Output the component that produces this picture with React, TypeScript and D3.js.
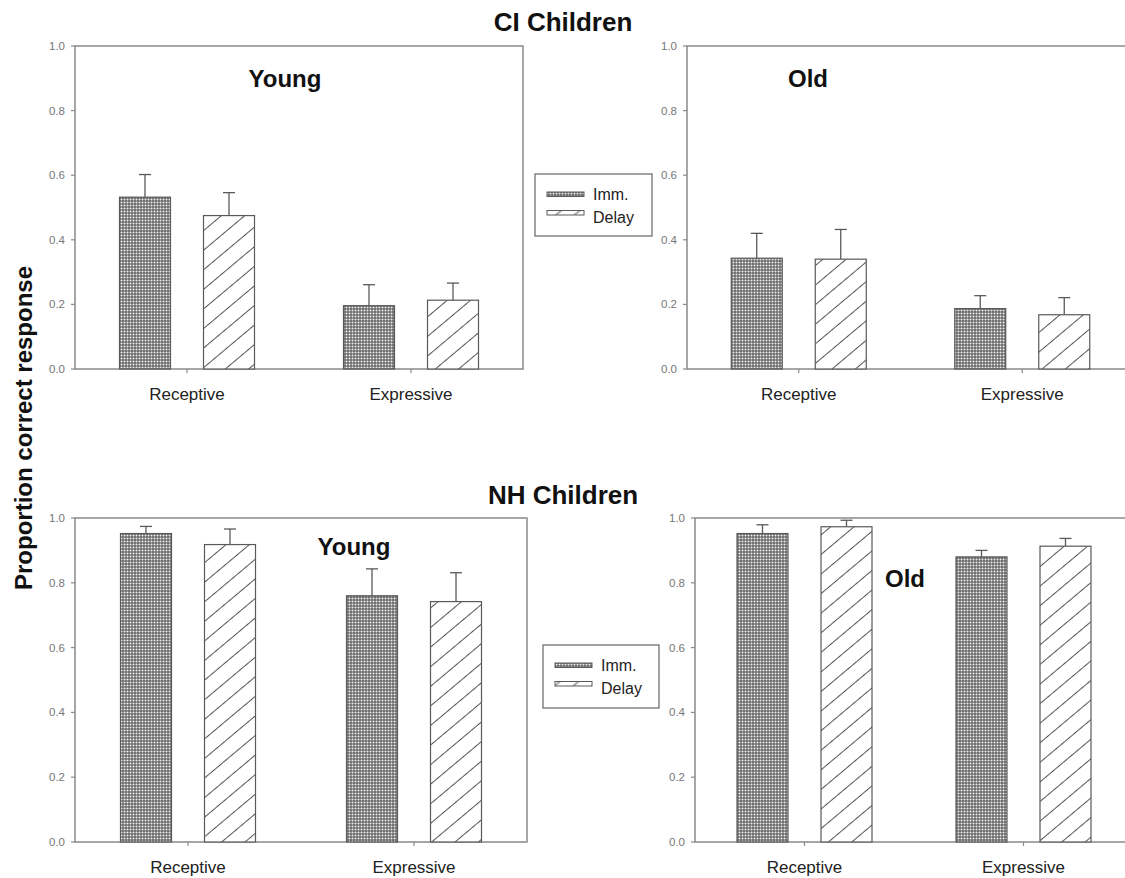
import React from "react";
import * as d3 from "d3";

// ---- data ----
const categories = ["Receptive", "Expressive"];
const seriesNames = ["Imm.", "Delay"];
const yTicks = [0, 0.2, 0.4, 0.6, 0.8, 1.0];

const ciYoungImm = [0.532, 0.196];
const ciYoungImmErr = [0.07, 0.065];
const ciYoungDelay = [0.475, 0.213];
const ciYoungDelayErr = [0.071, 0.053];

const ciOldImm = [0.343, 0.187];
const ciOldImmErr = [0.077, 0.04];
const ciOldDelay = [0.34, 0.168];
const ciOldDelayErr = [0.092, 0.053];

const nhYoungImm = [0.952, 0.76];
const nhYoungImmErr = [0.022, 0.083];
const nhYoungDelay = [0.918, 0.742];
const nhYoungDelayErr = [0.048, 0.089];

const nhOldImm = [0.952, 0.88];
const nhOldImmErr = [0.027, 0.02];
const nhOldDelay = [0.973, 0.913];
const nhOldDelayErr = [0.02, 0.024];

type Panel = {
  x0: number; x1: number; y0: number; y1: number;
  imm: number[]; immErr: number[]; delay: number[]; delayErr: number[];
  label: string; lx: number; ly: number;
};

const panels: Panel[] = [
  { x0: 75, x1: 523, y0: 46, y1: 369, imm: ciYoungImm, immErr: ciYoungImmErr, delay: ciYoungDelay, delayErr: ciYoungDelayErr, label: "Young", lx: 285, ly: 87 },
  { x0: 687, x1: 1134, y0: 46, y1: 369, imm: ciOldImm, immErr: ciOldImmErr, delay: ciOldDelay, delayErr: ciOldDelayErr, label: "Old", lx: 808, ly: 87 },
  { x0: 75, x1: 527, y0: 518, y1: 842, imm: nhYoungImm, immErr: nhYoungImmErr, delay: nhYoungDelay, delayErr: nhYoungDelayErr, label: "Young", lx: 354, ly: 555 },
  { x0: 695, x1: 1133, y0: 518, y1: 842, imm: nhOldImm, immErr: nhOldImmErr, delay: nhOldDelay, delayErr: nhOldDelayErr, label: "Old", lx: 905, ly: 587 },
];

const FONT = "'Liberation Sans', Arial, sans-serif";
const AXIS = "#8a8a8a";
const BAR = "#5a5a5a";

function PanelView({ p }: { p: Panel }) {
  const y = d3.scaleLinear().domain([0, 1]).range([p.y1, p.y0]);
  const xc = d3.scaleBand().domain(categories).range([p.x0, p.x1]).padding(0);
  const inner = d3.scaleBand().domain(seriesNames).range([0, 135]).paddingInner(0.393).paddingOuter(0);
  const bars: any[] = [];
  categories.forEach((c, i) => {
    const center = (xc(c) as number) + xc.bandwidth() / 2;
    const start = center - 67.5;
    [
      { s: "Imm.", v: p.imm[i], e: p.immErr[i], fill: "url(#imm)" },
      { s: "Delay", v: p.delay[i], e: p.delayErr[i], fill: "url(#delay)" },
    ].forEach((b) => {
      const bx = start + (inner(b.s) as number);
      const bw = inner.bandwidth();
      const mx = bx + bw / 2;
      bars.push(
        <g key={c + b.s}>
          <line x1={mx} x2={mx} y1={y(b.v)} y2={y(b.v + b.e)} stroke={BAR} strokeWidth={1.3} />
          <line x1={mx - 6} x2={mx + 6} y1={y(b.v + b.e)} y2={y(b.v + b.e)} stroke={BAR} strokeWidth={1.3} />
          <rect x={bx} y={y(b.v)} width={bw} height={p.y1 - y(b.v)} fill={b.fill} stroke={BAR} strokeWidth={1.2} />
        </g>
      );
    });
  });
  return (
    <g>
      <rect x={p.x0} y={p.y0} width={p.x1 - p.x0} height={p.y1 - p.y0} fill="none" stroke={AXIS} strokeWidth={1.5} />
      {yTicks.map((t) => (
        <g key={t}>
          <line x1={p.x0 - 4} x2={p.x0} y1={y(t)} y2={y(t)} stroke={AXIS} strokeWidth={1.2} />
          <text x={p.x0 - 10} y={y(t) + 4} textAnchor="end" fontSize={11.5} fill="#777" fontFamily={FONT}>
            {t.toFixed(1)}
          </text>
        </g>
      ))}
      {categories.map((c) => {
        const cx = (xc(c) as number) + xc.bandwidth() / 2;
        return (
          <g key={c}>
            <line x1={cx} x2={cx} y1={p.y1} y2={p.y1 + 4} stroke={AXIS} strokeWidth={1.2} />
            <text x={cx} y={p.y1 + 31} textAnchor="middle" fontSize={17} fill="#222" fontFamily={FONT}>
              {c}
            </text>
          </g>
        );
      })}
      {bars}
      <text x={p.lx} y={p.ly} textAnchor="middle" fontSize={24} fontWeight="bold" fill="#111" fontFamily={FONT}>
        {p.label}
      </text>
    </g>
  );
}

function Legend({ x, y, w, h }: { x: number; y: number; w: number; h: number }) {
  return (
    <g>
      <rect x={x} y={y} width={w} height={h} fill="white" stroke="#666" strokeWidth={1.2} />
      {seriesNames.map((s, i) => (
        <g key={s}>
          <rect x={x + 12} y={y + 18 + i * 18.5} width={37} height={4.5} fill={i === 0 ? "url(#imm)" : "url(#delaySmall)"} stroke={BAR} strokeWidth={1} />
          <text x={x + 58} y={y + 26 + i * 23} fontSize={16} fill="#222" fontFamily={FONT}>
            {s}
          </text>
        </g>
      ))}
    </g>
  );
}

export default function App() {
  return (
    <svg width={1125} height={878} style={{ position: "absolute", left: 0, top: 0, background: "white" }}>
      <defs>
        <pattern id="imm" patternUnits="userSpaceOnUse" width={3} height={3}>
          <rect width={3} height={3} fill="#4a4a4a" />
          <rect x={0.5} y={0.5} width={2} height={2} fill="#f2f2f2" />
        </pattern>
        <pattern id="delay" patternUnits="userSpaceOnUse" width={20} height={15} patternTransform="rotate(-40)">
          <rect width={20} height={15} fill="white" />
          <line x1={0} x2={20} y1={7.5} y2={7.5} stroke="#555" strokeWidth={1} />
        </pattern>
        <pattern id="delaySmall" patternUnits="userSpaceOnUse" width={20} height={12} patternTransform="rotate(-40)">
          <rect width={20} height={12} fill="white" />
          <line x1={0} x2={20} y1={6} y2={6} stroke="#555" strokeWidth={1} />
        </pattern>
      </defs>
      <rect width={1125} height={878} fill="white" />
      <text x={563} y={31} textAnchor="middle" fontSize={26} fontWeight="bold" fill="#111" fontFamily={FONT}>
        CI Children
      </text>
      <text x={563} y={504} textAnchor="middle" fontSize={26} fontWeight="bold" fill="#111" fontFamily={FONT}>
        NH Children
      </text>
      <text
        transform="translate(32,428) rotate(-90)"
        textAnchor="middle"
        fontSize={24}
        fontWeight="bold"
        fill="#111"
        fontFamily={FONT}
      >
        Proportion correct response
      </text>
      {panels.map((p, i) => (
        <PanelView key={i} p={p} />
      ))}
      <Legend x={535} y={174} w={117} h={62} />
      <Legend x={543} y={645} w={116} h={63} />
    </svg>
  );
}
